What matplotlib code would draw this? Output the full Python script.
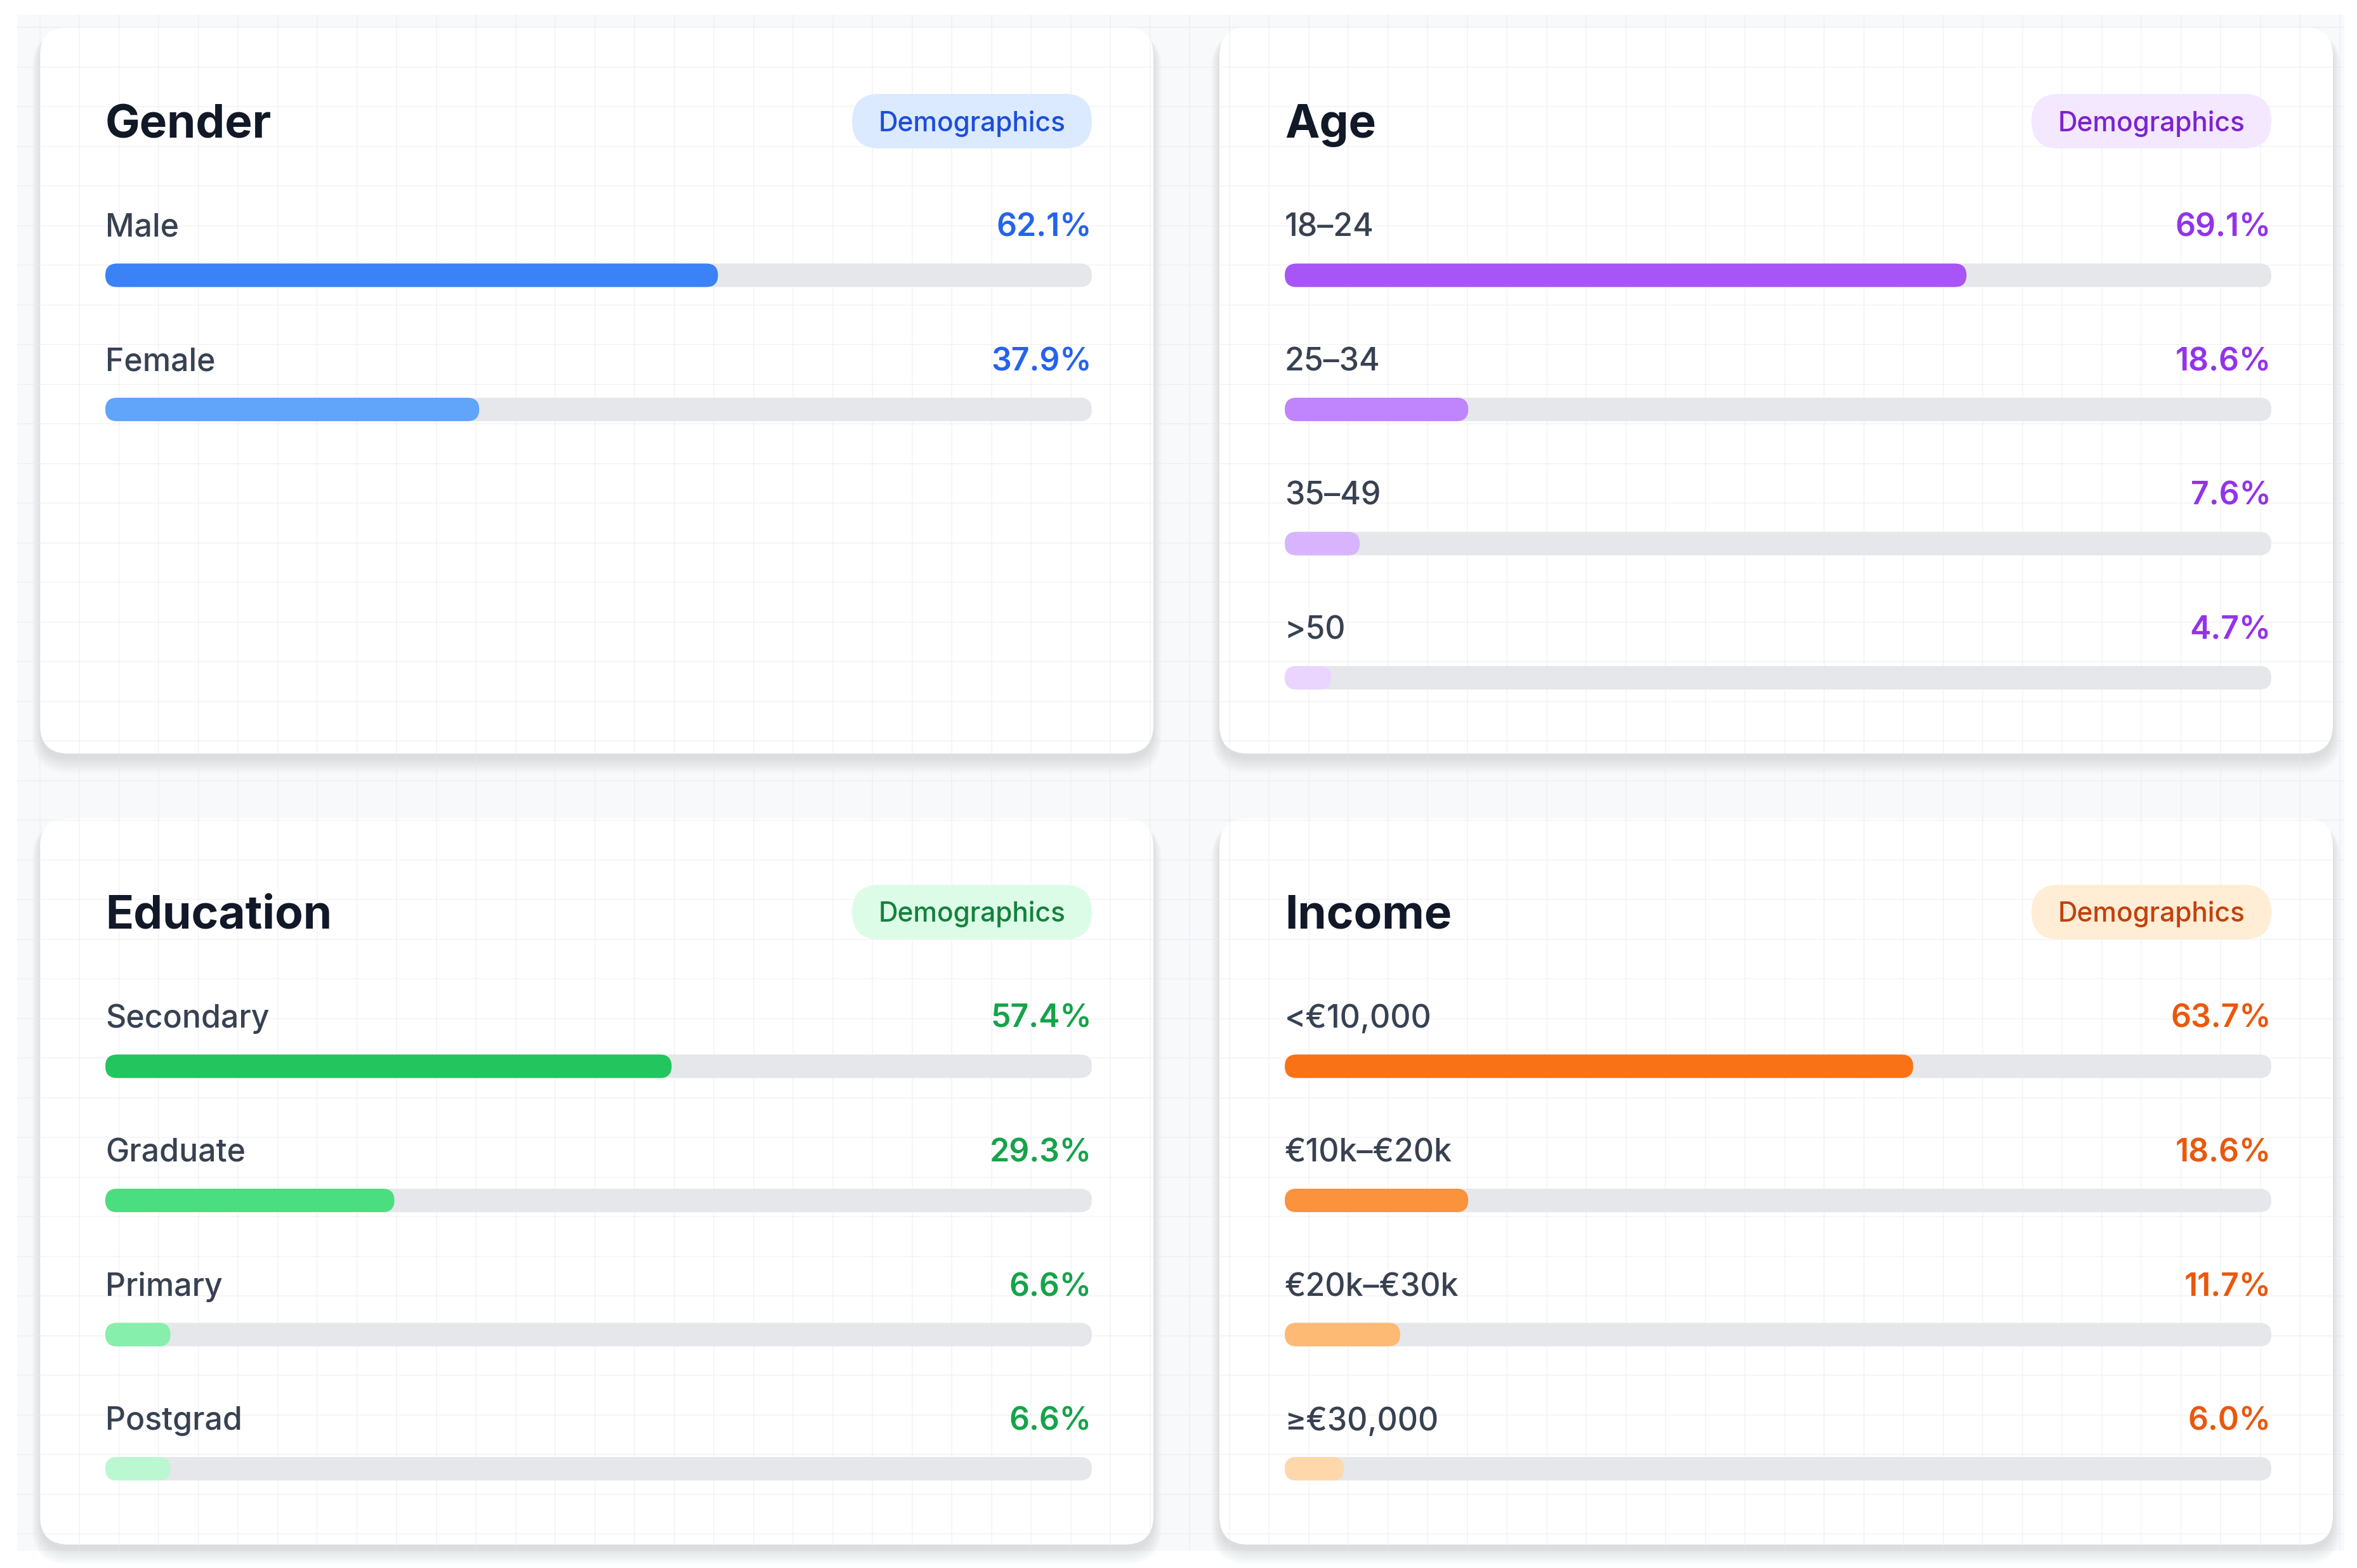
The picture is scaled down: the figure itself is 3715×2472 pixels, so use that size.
import numpy as np
import matplotlib.pyplot as plt
from matplotlib.patches import FancyBboxPatch, Rectangle

plt.rcParams['font.family'] = ['Inter', 'DejaVu Sans']

# ---- data ----
titles = ['Gender', 'Age', 'Education', 'Income']
badge_text = 'Demographics'

gender_labels = ['Male', 'Female']
gender_values = [62.1, 37.9]
age_labels = ['18–24', '25–34', '35–49', '>50']
age_values = [69.1, 18.6, 7.6, 4.7]
edu_labels = ['Secondary', 'Graduate', 'Primary', 'Postgrad']
edu_values = [57.4, 29.3, 6.6, 6.6]
income_labels = ['<€10,000', '€10k–€20k', '€20k–€30k', '≥€30,000']
income_values = [63.7, 18.6, 11.7, 6.0]

# ---- styles ----
bar_colors = [
    ['#3b82f6', '#60a5fa'],
    ['#a855f7', '#c084fc', '#d8b4fe', '#e9d5ff'],
    ['#22c55e', '#4ade80', '#86efac', '#bbf7d0'],
    ['#f97316', '#fb923c', '#fdba74', '#fed7aa'],
]
value_colors = ['#2563eb', '#9333ea', '#16a34a', '#ea580c']
badge_bg = ['#dbeafe', '#f3e8ff', '#dcfce7', '#ffedd5']
badge_fg = ['#1d4ed8', '#7e22ce', '#15803d', '#c2410c']
track_color = '#e5e7eb'

W, H, DPI = 3716, 2472, 100
card_pos = [(63, 43), (1922, 43), (63, 1290), (1922, 1290)]
card_w, card_h = 1755, 1145
pad_l, pad_r = 103, 97
row_step = 211.5
bar_h = 37

fig = plt.figure(figsize=(W / DPI, H / DPI), dpi=DPI)
fig.patch.set_facecolor('white')

bg = fig.add_axes([0, 0, 1, 1])
bg.set_xlim(0, W)
bg.set_ylim(H, 0)
bg.axis('off')

# page background
bg.add_patch(Rectangle((27, 23), 3668, 2422, facecolor='#f8f9fb', edgecolor='none', zorder=0))

# cards with soft shadow, mostly below
for cx, cy in card_pos:
    for j in range(14):
        s = j * 2.0
        bg.add_patch(FancyBboxPatch((cx - s * 0.5, cy + 8), card_w + s, card_h + s * 0.9,
                                    boxstyle=f'round,pad=0,rounding_size={45 + s * 0.5}',
                                    facecolor='#4b5563', edgecolor='none', alpha=0.011, zorder=1))
    bg.add_patch(FancyBboxPatch((cx, cy), card_w, card_h, boxstyle='round,pad=0,rounding_size=45',
                                facecolor='white', edgecolor='none', zorder=2))

# faint grid
gx = np.arange(63, 3695, 62.5)
gy = np.arange(43, 2445, 62.5)
bg.vlines(gx, 23, 2445, color='#e5e7eb', lw=1.4, alpha=0.35, zorder=3)
bg.hlines(gy, 27, 3695, color='#e5e7eb', lw=1.4, alpha=0.35, zorder=3)

groups = [
    (gender_labels, gender_values),
    (age_labels, age_values),
    (edu_labels, edu_values),
    (income_labels, income_values),
]

for k, ((cx, cy), (labels, values)) in enumerate(zip(card_pos, groups)):
    # title and badge
    bg.text(cx + pad_l, cy + 174, titles[k], fontsize=52.5, fontweight='bold',
            color='#111827', ha='left', va='baseline', zorder=5)
    bw, bh = 378, 86
    bx = cx + card_w - pad_r - bw
    by = cy + 148 - bh / 2
    bg.add_patch(FancyBboxPatch((bx, by), bw, bh, boxstyle=f'round,pad=0,rounding_size={bh / 2}',
                                facecolor=badge_bg[k], edgecolor='none', zorder=4))
    bg.text(bx + bw / 2, cy + 148 + 15.5, badge_text, fontsize=30.5, fontweight='medium',
            color=badge_fg[k], ha='center', va='baseline', zorder=5)

    # bar axes: x is percent 0-100 across the track, y is row index
    track_w = card_w - pad_l - pad_r
    top_px = cy + 391 - row_step * 0.9
    bot_px = cy + 391 + row_step * 3.5
    ax = fig.add_axes([(cx + pad_l) / W, 1 - bot_px / H, track_w / W, (bot_px - top_px) / H])
    ax.set_xlim(0, 100)
    ax.set_ylim(3.5, -0.9)
    ax.axis('off')
    ax.patch.set_alpha(0)

    xu = 100 / track_w          # x units per px
    yu = 1 / row_step           # y units per px
    h = bar_h * yu
    r = bar_h / 2 * xu
    asp = yu / xu
    for i, (lab, v) in enumerate(zip(labels, values)):
        ax.add_patch(FancyBboxPatch((0, i - h / 2), 100, h, boxstyle=f'round,pad=0,rounding_size={r}',
                                    mutation_aspect=asp, facecolor=track_color, edgecolor='none', zorder=2))
        ax.add_patch(FancyBboxPatch((0, i - h / 2), v, h, boxstyle=f'round,pad=0,rounding_size={r}',
                                    mutation_aspect=asp, facecolor=bar_colors[k][i], edgecolor='none', zorder=3))
        ax.text(0, i - 61 * yu, lab, fontsize=36, fontweight='medium', color='#374151',
                ha='left', va='baseline')
        ax.text(100, i - 61 * yu, f'{v:.1f}%', fontsize=36, fontweight='semibold',
                color=value_colors[k], ha='right', va='baseline')

fig.savefig('out.png', dpi=DPI, facecolor='white')
